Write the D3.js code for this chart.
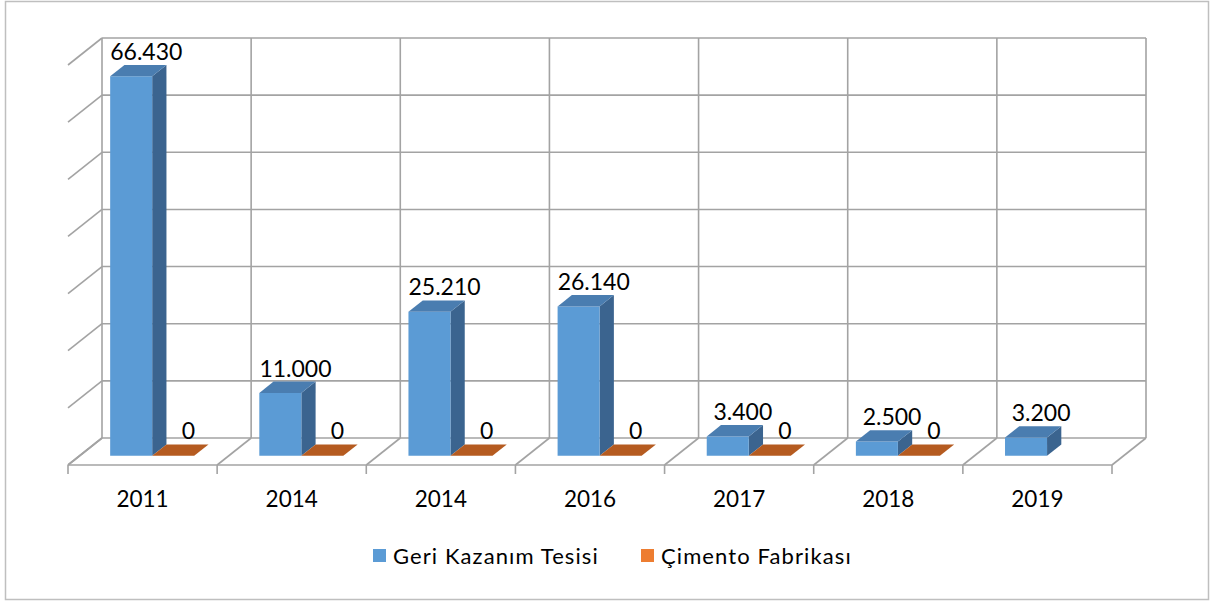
<!DOCTYPE html>
<html>
<head>
<meta charset="utf-8">
<script src="https://cdn.jsdelivr.net/npm/d3@7"></script>
<style>
  body { margin: 0; background: #fff; }
  text { font-family: Lato, "Open Sans", sans-serif; fill: #000; }
</style>
</head>
<body>
<div id="chart"></div>
<script>
var categories = ["2011", "2014", "2014", "2016", "2017", "2018", "2019"];
var seriesNames = ["Geri Kazanım Tesisi", "Çimento Fabrikası"];
var geriKazanim = [66430, 11000, 25210, 26140, 3400, 2500, 3200];
var cimento = [0, 0, 0, 0, 0, 0, null];
var yTicks = [0, 10000, 20000, 30000, 40000, 50000, 60000, 70000];

var W = 1211, H = 603;
var front = { left: 68, right: 1112, base: 465 };
var depth = { dx: 34, dy: -27 };
var wallHeight = 400;
var zFront = 0.34, zBack = 0.76;
var gridColor = "#a3a3a3";
var colors = [
    { front: "#5b9bd5", top: "#4a7db0", side: "#3b648f" },
    { front: "#ed7d31", top: "#b55b20", side: "#a04f1b" }
];

var fmt = function (v) {
    return d3.format(",")(v).replace(/,/g, ".");
};

var svg = d3.select("#chart").append("svg")
    .attr("width", W).attr("height", H);

svg.append("rect")
    .attr("x", 5.5).attr("y", 1.5)
    .attr("width", 1203).attr("height", 598)
    .attr("fill", "#fff").attr("stroke", "#bfbfbf").attr("stroke-width", 1.5);

var x0 = d3.scaleBand()
    .domain(d3.range(categories.length))
    .range([front.left, front.right]);

var x1 = d3.scaleBand()
    .domain(d3.range(seriesNames.length))
    .range([0, x0.bandwidth()])
    .paddingOuter(0.775)
    .align(0.47);

var y = d3.scaleLinear()
    .domain([0, 70000])
    .range([0, wallHeight]);

// projection: x,y on front plane shifted back by depth z (0..1)
function px(x, z) { return x + depth.dx * z; }
function py(v, z) { return front.base - y(v) + depth.dy * z; }

var g = svg.append("g");

// back wall gridlines + left wall diagonals
yTicks.forEach(function (t) {
    g.append("line")
        .attr("x1", px(front.left, 1)).attr("x2", px(front.right, 1))
        .attr("y1", py(t, 1)).attr("y2", py(t, 1))
        .attr("stroke", gridColor).attr("stroke-width", 1.6);
    g.append("line")
        .attr("x1", px(front.left, 0)).attr("x2", px(front.left, 1))
        .attr("y1", py(t, 0)).attr("y2", py(t, 1))
        .attr("stroke", gridColor).attr("stroke-width", 1.6);
});

// back wall verticals, floor diagonals and front ticks
var bounds = d3.range(categories.length + 1).map(function (i) {
    return i < categories.length ? x0(i) : front.right;
});
bounds.forEach(function (bx) {
    g.append("line")
        .attr("x1", px(bx, 1)).attr("x2", px(bx, 1))
        .attr("y1", py(0, 1)).attr("y2", py(70000, 1))
        .attr("stroke", gridColor).attr("stroke-width", 1.6);
    g.append("line")
        .attr("x1", px(bx, 0)).attr("x2", px(bx, 1))
        .attr("y1", py(0, 0)).attr("y2", py(0, 1))
        .attr("stroke", gridColor).attr("stroke-width", 1.6);
    g.append("line")
        .attr("x1", bx).attr("x2", bx)
        .attr("y1", py(0, 0)).attr("y2", py(0, 0) + 9)
        .attr("stroke", gridColor).attr("stroke-width", 1.6);
});

// floor front edge
g.append("line")
    .attr("x1", front.left).attr("x2", front.right)
    .attr("y1", py(0, 0)).attr("y2", py(0, 0))
    .attr("stroke", gridColor).attr("stroke-width", 1.6);

// category labels
svg.append("g").selectAll("text")
    .data(categories)
    .enter().append("text")
    .attr("x", function (d, i) { return x0(i) + x0.bandwidth() / 2; })
    .attr("y", 507)
    .attr("text-anchor", "middle")
    .style("font-size", "22.5px")
    .text(function (d) { return d; });

// bars
var bars = [];
categories.forEach(function (c, i) {
    [geriKazanim, cimento].forEach(function (vals, s) {
        if (vals[i] == null) return;
        bars.push({ cat: i, s: s, value: vals[i] });
    });
});

var barG = svg.append("g");
var bw = x1.bandwidth();
bars.forEach(function (d) {
    var xl = x0(d.cat) + x1(d.s);
    var xr = xl + bw;
    var c = colors[d.s];
    var poly = function (pts) {
        return pts.map(function (p) { return p.join(","); }).join(" ");
    };
    if (d.value > 0) {
        // side
        barG.append("polygon")
            .attr("points", poly([
                [px(xr, zFront), py(0, zFront)], [px(xr, zBack), py(0, zBack)],
                [px(xr, zBack), py(d.value, zBack)], [px(xr, zFront), py(d.value, zFront)]]))
            .attr("fill", c.side);
        // front
        barG.append("polygon")
            .attr("points", poly([
                [px(xl, zFront), py(0, zFront)], [px(xr, zFront), py(0, zFront)],
                [px(xr, zFront), py(d.value, zFront)], [px(xl, zFront), py(d.value, zFront)]]))
            .attr("fill", c.front);
    }
    // top
    barG.append("polygon")
        .attr("points", poly([
            [px(xl, zFront), py(d.value, zFront)], [px(xr, zFront), py(d.value, zFront)],
            [px(xr, zBack), py(d.value, zBack)], [px(xl, zBack), py(d.value, zBack)]]))
        .attr("fill", c.top);
});

// data labels
svg.append("g").selectAll("text")
    .data(bars)
    .enter().append("text")
    .attr("x", function (d) {
        var xl = x0(d.cat) + x1(d.s);
        return px(xl + bw / 2, (zFront + zBack) / 2) + 8;
    })
    .attr("y", function (d) { return py(d.value, zBack) - 5; })
    .attr("text-anchor", "middle")
    .style("font-size", "23px")
    .text(function (d) { return fmt(d.value); });

// legend
var legend = svg.append("g");
var legendX = [373, 641];
seriesNames.forEach(function (name, s) {
    legend.append("rect")
        .attr("x", legendX[s]).attr("y", 549)
        .attr("width", 13).attr("height", 13)
        .attr("fill", colors[s].front);
    legend.append("text")
        .attr("x", legendX[s] + 20).attr("y", 564)
        .style("font-size", "22px")
        .style("letter-spacing", "1.1px")
        .text(name);
});
</script>
</body>
</html>
